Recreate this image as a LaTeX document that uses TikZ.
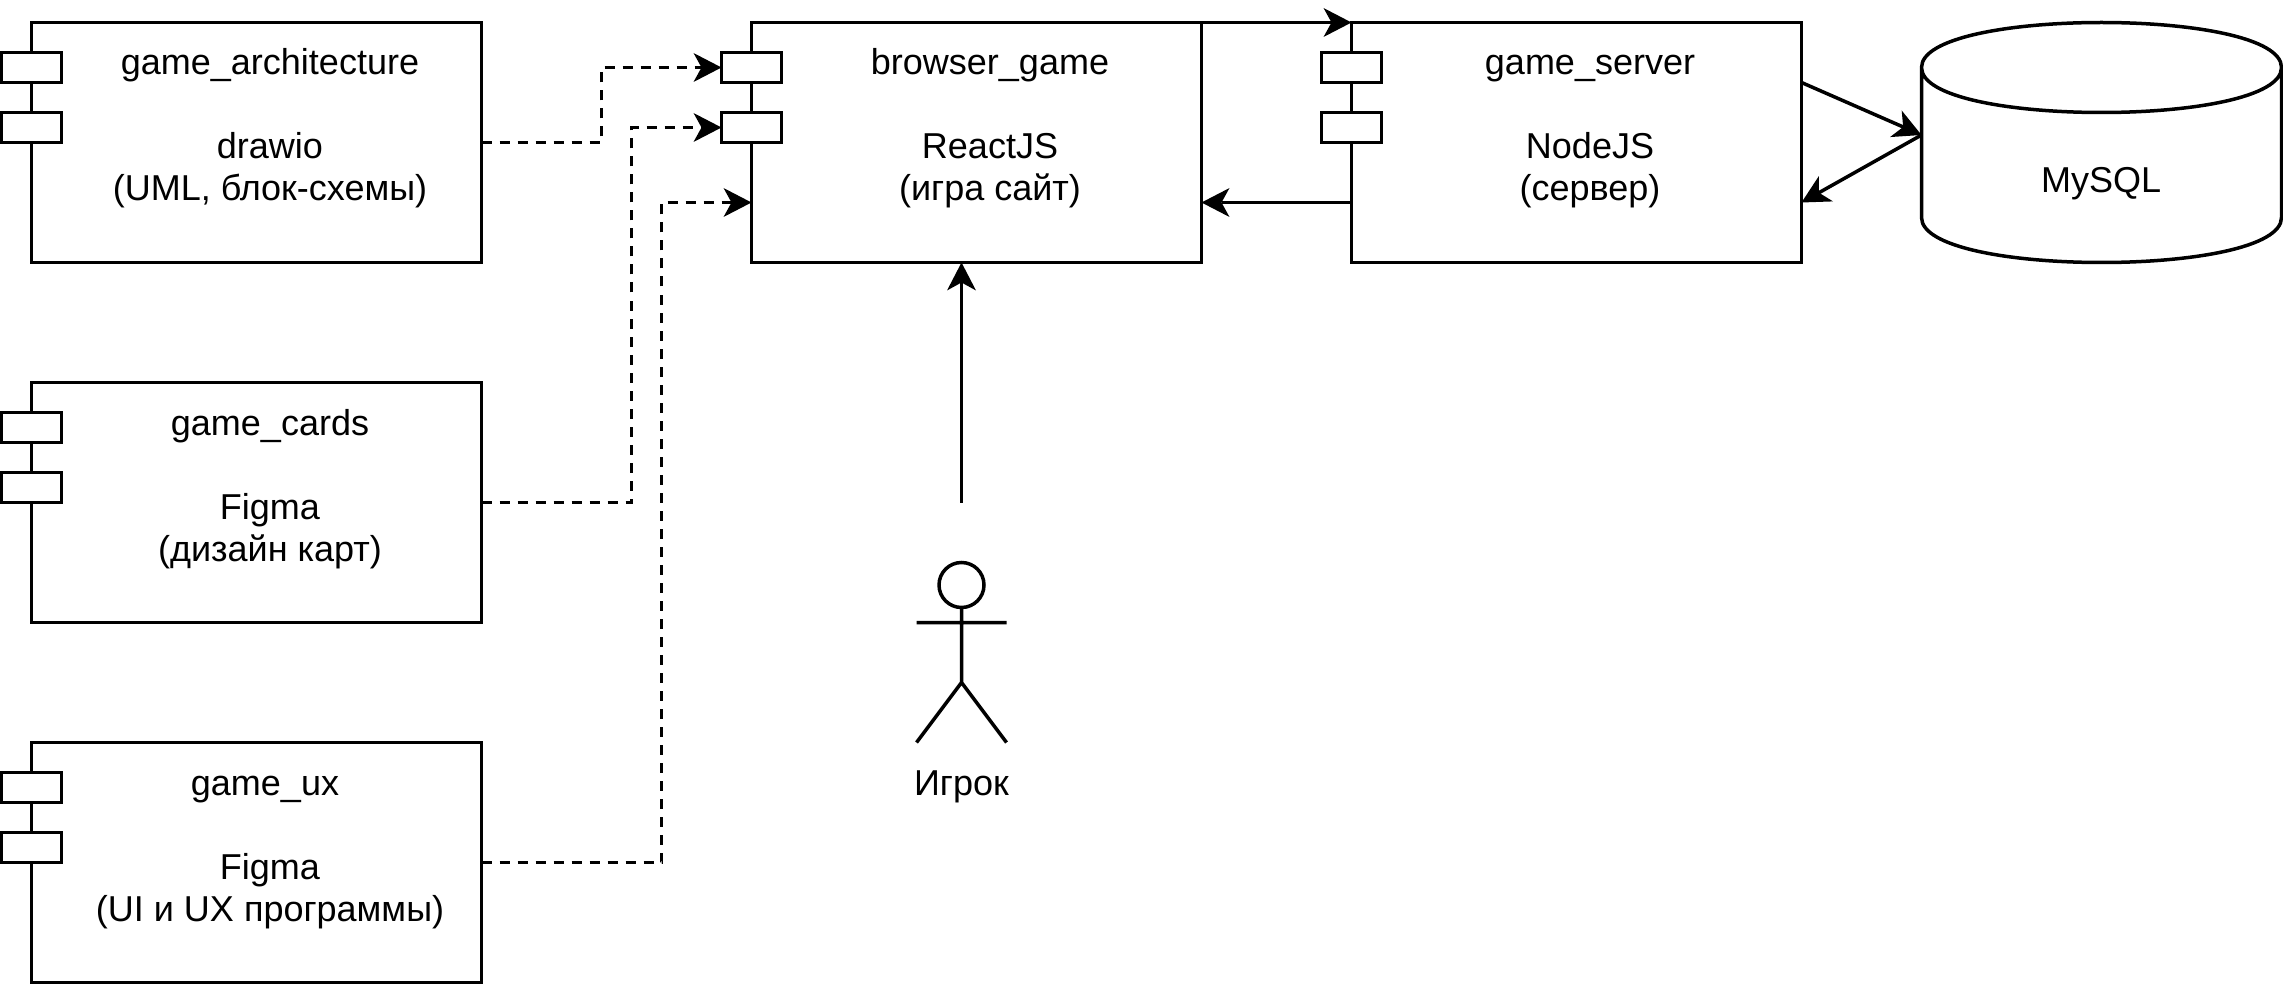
\documentclass[tikz,border=0pt]{standalone}
\usepackage{fontspec}
\setmainfont{Liberation Sans}
\usetikzlibrary{arrows.meta}
\usetikzlibrary{positioning}
\tikzset{
  boxline/.style={line width=3.5pt,draw=black},
  compbox/.style={boxline,rectangle,minimum width=450pt,minimum height=240pt,outer sep=0pt,inner sep=0pt},
  comptab/.style={boxline,rectangle,fill=white,minimum width=60pt,minimum height=30pt,outer sep=0pt,inner sep=0pt},
  boxtext/.style={align=center,inner sep=0pt,font=\fontsize{36}{42}\selectfont},
  solidarrow/.style={boxline,-{Stealth[length=28pt,width=29pt,inset=8pt,line width=0pt]}},
  dashedarrow/.style={solidarrow,dash pattern=on 10pt off 8pt},
}

\begin{document}
\begin{tikzpicture}[x=1pt,y=-1pt]
      \useasboundingbox (0,0) rectangle (2283,984);
      \node[compbox] (architecture) at (256.5,142.5) {};
      \node[compbox] (cards) at (256.5,502.5) {};
      \node[compbox] (ux) at (256.5,862.5) {};
      \node[compbox] (browser) at (976.5,142.5) {};
      \node[compbox] (server) at (1576.5,142.5) {};
      \foreach\b in {architecture,cards,ux,browser,server} {
        \node[comptab] (\b tab1) at ([yshift=75pt]\b.west) {};
        \node[comptab] (\b tab2) at ([yshift=15pt]\b.west) {};
      }
      \node[boxtext] (architecturetext) at (270,129.6) {\strut game\_architecture\\[42pt]drawio\\(UML, блок-схемы)\strut};
      \node[boxtext] (cardstext) at (270,489.6) {\strut game\_cards\\[42pt]Figma\\(дизайн карт)\strut};
      \node[boxtext] (uxtext) at (270,849.6) {\strut game\_ux\kern10pt\\[42pt]Figma\\(UI и UX программы)\strut};
      \node[boxtext] (browsertext) at (990,129.6) {\strut browser\_game\\[42pt]ReactJS\\(игра сайт)\strut};
      \node[boxtext] (servertext) at (1590,129.6) {\strut game\_server\\[42pt]NodeJS\\(сервер)\strut};

      \draw[boxline] (1921.5,67.5) coordinate (c1) ..controls (1921.5,7.5) and (2281.5,7.5) .. (2281.5,67.5) coordinate (c2)
			-- (2281.5,217.5) ..controls (2281.5,277.5) and (1921.5,277.5) .. (1921.5,217.5) -- cycle
			(c1) ..controls (1921.5,127.5) and (2281.5,127.5) .. (c2);
      \node[boxtext] (mysql) at (2101,183.5) {MySQL};
      \coordinate (mysqlport) at (1921.5,135);

      \node[boxline,circle,minimum size=45pt,inner sep=0pt,outer sep=0pt] (head) at (961.5,585) {};
      \coordinate (hip) at (961.5,682.5);
      \coordinate (footl) at (916.5,742.5);
      \coordinate (footr) at (1006.5,742.5);
      \coordinate (arml) at (916.5,622.5);
      \coordinate (armr) at (1006.5,622.5);
      \draw[boxline] (head) -- (hip) (arml) -- (armr) (footl) -- (hip) -- (footr);
      \node[boxtext] (player) at (961.5,787) {Игрок};

      \coordinate (elbow1) at (601.5,67.5);
      \coordinate (elbow2) at (631.5,127.5);
      \coordinate (elbow3) at (661.5,202.5);
      \coordinate (browserin) at (751.5,202.5);
      \draw[dashedarrow] (architecture.east) -| (elbow1) -- (browsertab1.west);
      \draw[dashedarrow] (cards.east) -| (elbow2) -- (browsertab2.west);
      \draw[dashedarrow] (ux.east) -| (elbow3) -- (browserin);

      \coordinate (playerout) at (961.5,502.5);
      \draw[solidarrow] (playerout) -- ([xshift=-15pt]browser.south);
      \draw[solidarrow] (browser.north east) -- (server.north west);
      \draw[solidarrow] ([yshift=-60pt]server.west) -- ([yshift=-60pt]browser.east);
      \draw[solidarrow] ([yshift=60pt]server.east) -- (mysqlport);
      \draw[solidarrow] (mysqlport) -- ([yshift=-60pt]server.east);
    \end{tikzpicture}
\end{document}
